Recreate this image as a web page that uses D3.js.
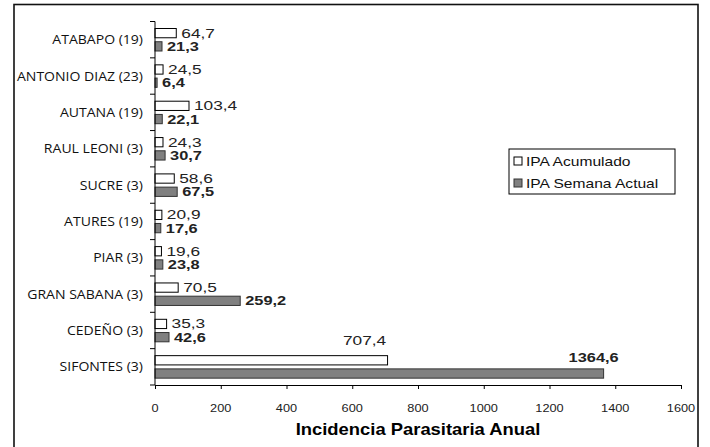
<!DOCTYPE html>
<html>
<head>
<meta charset="utf-8">
<script src="https://cdn.jsdelivr.net/npm/d3@7"></script>
<style>
  body { margin: 0; background: #fff; }
  .val { font-family: "Liberation Sans", Arial, sans-serif; font-size: 13px; fill: #222; }
  .val.bold { font-weight: bold; }
  .cat { font-family: "Open Sans", sans-serif; font-size: 13px; fill: #111; }
  .tick-lbl { font-family: "Liberation Sans", Arial, sans-serif; font-size: 11px; fill: #222; }
  .axis-title { font-family: "Liberation Sans", Arial, sans-serif; font-size: 16px; font-weight: bold; fill: #000; }
  .leg { font-family: "Liberation Sans", Arial, sans-serif; font-size: 13px; fill: #111; }
</style>
</head>
<body>
<svg id="chart" width="710" height="447"></svg>
<script>
// districts, top to bottom
const categories = ["ATABAPO (19)", "ANTONIO DIAZ (23)", "AUTANA (19)", "RAUL LEONI (3)", "SUCRE (3)",
  "ATURES (19)", "PIAR (3)", "GRAN SABANA (3)", "CEDEÑO (3)", "SIFONTES (3)"];
const ipaAcumulado = [64.7, 24.5, 103.4, 24.3, 58.6, 20.9, 19.6, 70.5, 35.3, 707.4];
const ipaSemana = [21.3, 6.4, 22.1, 30.7, 67.5, 17.6, 23.8, 259.2, 42.6, 1364.6];
const seriesNames = ["IPA Acumulado", "IPA Semana Actual"];
const xTicks = [0, 200, 400, 600, 800, 1000, 1200, 1400, 1600];

const svg = d3.select("#chart");
const fmt = v => v.toFixed(1).replace(".", ",");

// the source picture is stretched sideways, so text gets a horizontal scale
function addText(g, x, y, str, cls, sx, anchor) {
  return g.append("text")
    .attr("class", cls)
    .attr("transform", `translate(${x},${y}) scale(${sx},1)`)
    .attr("text-anchor", anchor || "start")
    .text(str);
}

// outer frame
svg.append("rect")
  .attr("x", 14).attr("y", 4.5)
  .attr("width", 684).attr("height", 460)
  .attr("fill", "none").attr("stroke", "#111").attr("stroke-width", 1.6);

const x = d3.scaleLinear().domain([0, 1600]).range([155, 681]);
const y = d3.scaleBand().domain(categories).range([21.5, 385]);
const ySub = d3.scaleBand().domain(seriesNames).range([7, 29.5]).paddingInner(0.3);

const rows = categories.map((c, i) => ({ cat: c, vals: [ipaAcumulado[i], ipaSemana[i]] }));

// bars
const rowG = svg.selectAll(".row")
  .data(rows)
  .join("g")
  .attr("class", "row")
  .attr("transform", d => `translate(0,${y(d.cat)})`);

rowG.each(function (d) {
  const g = d3.select(this);
  seriesNames.forEach((s, k) => {
    const v = d.vals[k];
    g.append("rect")
      .attr("x", x(0))
      .attr("y", ySub(s))
      .attr("width", x(v) - x(0))
      .attr("height", ySub.bandwidth())
      .attr("fill", k === 0 ? "#fff" : "#808080")
      .attr("stroke", k === 0 ? "#000" : "#333")
      .attr("stroke-width", 1);

    // the two Sifontes labels sit above their bars
    const big = v > 600;
    const lx = big ? x(v) - (k === 0 ? 23 : 10) : x(v) + 5;
    const ly = big ? ySub(s) - (k === 0 ? 11 : 7) : ySub(s) + ySub.bandwidth() / 2 + 4.5;
    addText(g, lx, ly, fmt(v), k === 0 ? "val" : "val bold", k === 0 ? 1.33 : 1.26, big ? "middle" : "start");
  });
  addText(g, 143, y.bandwidth() / 2 + 4.5, d.cat, "cat", 1.08, "end");
});

// y axis: line and category separators
svg.append("line")
  .attr("x1", x(0)).attr("x2", x(0))
  .attr("y1", y.range()[0]).attr("y2", y.range()[1])
  .attr("stroke", "#000");
svg.selectAll(".ysep")
  .data(categories.map(c => y(c)).concat([y.range()[1]]))
  .join("line")
  .attr("class", "ysep")
  .attr("x1", x(0) - 5).attr("x2", x(0))
  .attr("y1", d => d).attr("y2", d => d)
  .attr("stroke", "#000");

// x axis
const xAxisG = svg.append("g")
  .attr("transform", `translate(0,${y.range()[1]})`)
  .call(d3.axisBottom(x).tickValues(xTicks).tickSize(4).tickFormat(""));
xAxisG.select(".domain").attr("stroke", "#000");
xAxisG.selectAll(".tick line").attr("stroke", "#000");

xTicks.forEach(t => addText(svg, x(t), 412, t, "tick-lbl", 1.16, "middle"));

addText(svg, (x.range()[0] + x.range()[1]) / 2, 435, "Incidencia Parasitaria Anual", "axis-title", 1.15, "middle");

// legend
const leg = svg.append("g");
leg.append("rect")
  .attr("x", 509).attr("y", 149)
  .attr("width", 166).attr("height", 45)
  .attr("fill", "#fff").attr("stroke", "#000");
seriesNames.forEach((s, k) => {
  const cy = 161 + k * 22;
  leg.append("rect")
    .attr("x", 514).attr("y", cy - 4)
    .attr("width", 8).attr("height", 8)
    .attr("fill", k === 0 ? "#fff" : "#808080")
    .attr("stroke", k === 0 ? "#000" : "#333");
  addText(leg, 526, cy + 5, s, "leg", 1.2, "start");
});
</script>
</body>
</html>
